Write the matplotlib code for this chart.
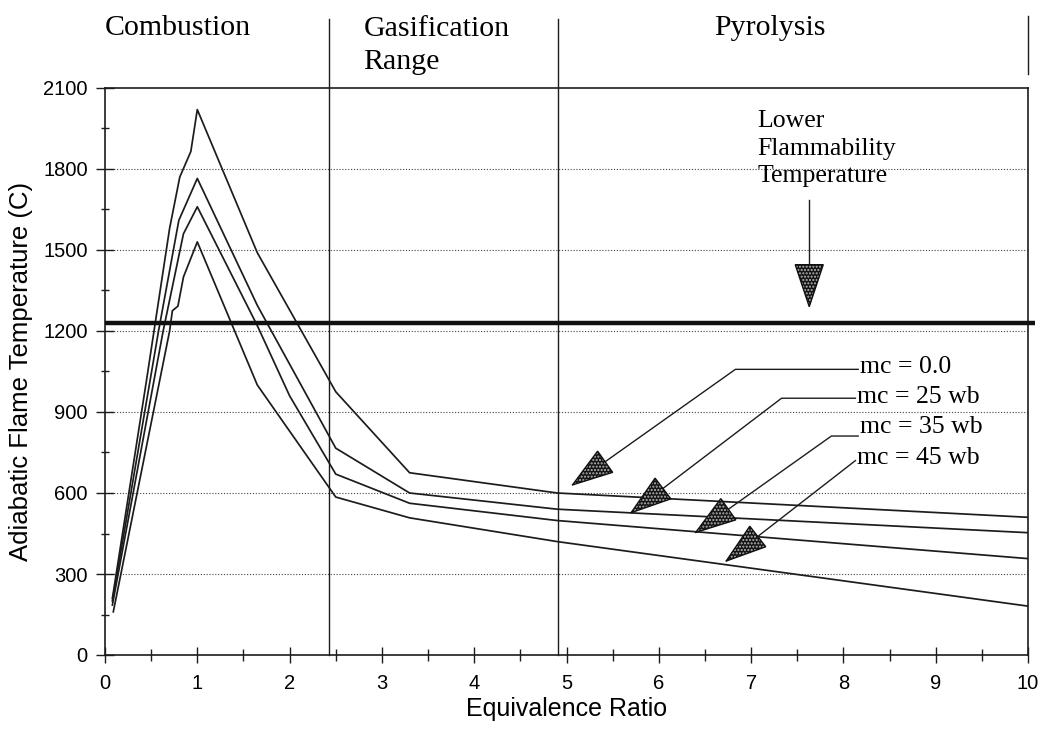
import numpy as np
import matplotlib
matplotlib.use("Agg")
import matplotlib.pyplot as plt
from matplotlib.patches import Polygon

# Adiabatic flame temperature vs equivalence ratio for several moisture contents
phi_mc0 = [0.08, 0.45, 0.70, 0.81, 0.93, 1.0, 1.65, 2.5, 3.3, 4.9, 10]
temp_mc0 = [210, 1018, 1580, 1770, 1865, 2020, 1490, 975, 675, 600, 510]

phi_mc25 = [0.08, 0.58, 0.80, 1.0, 1.65, 2.5, 3.3, 4.9, 10]
temp_mc25 = [200, 1200, 1610, 1765, 1295, 766, 600, 540, 453]

phi_mc35 = [0.08, 0.63, 0.85, 1.0, 1.65, 2.0, 2.5, 3.3, 4.9, 10]
temp_mc35 = [185, 1200, 1560, 1660, 1220, 960, 670, 562, 498, 357]

phi_mc45 = [0.09, 0.70, 0.73, 0.79, 0.85, 1.0, 1.65, 2.5, 3.3, 4.9, 10]
temp_mc45 = [160, 1200, 1275, 1292, 1400, 1530, 1000, 585, 508, 420, 181]

series_labels = ["mc = 0.0", "mc = 25 wb", "mc = 35 wb", "mc = 45 wb"]

lower_flammability_temp = 1230
regime_bounds = [2.43, 4.91]
regime_names = ["Combustion", "Gasification\nRange", "Pyrolysis"]

x_ticks = list(range(0, 11))
y_ticks = list(range(0, 2101, 300))

SERIF = ["Liberation Serif", "DejaVu Serif"]
SANS = ["Liberation Sans", "DejaVu Sans"]
INK = "#1c1c1c"

fig = plt.figure(figsize=(10.43, 7.32), dpi=100)
ax = fig.add_axes([105 / 1043, 77 / 732, 923 / 1043, 567 / 732])
ax.set_xlim(0, 10)
ax.set_ylim(0, 2100)

# frame and ticks
for side in ["left", "right", "top", "bottom"]:
    ax.spines[side].set_linewidth(1.2)
    ax.spines[side].set_color(INK)
ax.set_xticks(x_ticks)
ax.set_xticks(np.arange(0.5, 10, 1.0), minor=True)
ax.set_yticks(y_ticks)
ax.set_yticks(np.arange(150, 2100, 300), minor=True)
ax.tick_params(which="major", direction="inout", length=13, width=1.0, color=INK,
               labelsize=14.5, pad=6)
ax.tick_params(which="minor", direction="inout", length=6, width=1.0, color=INK)
ax.tick_params(axis="x", which="major", length=11, pad=8)
ax.tick_params(axis="x", which="minor", length=9)
ax.tick_params(right=False, top=False, which="both")
for lab in ax.get_xticklabels() + ax.get_yticklabels():
    lab.set_family(SANS)

# dotted horizontal grid
for yv in y_ticks[1:-1]:
    ax.axhline(yv, color="#444444", lw=0.8, ls=(0, (1, 1.6)), zorder=1)

ax.set_xlabel("Equivalence Ratio", family=SANS, fontsize=18, labelpad=3)
ax.set_ylabel("Adiabatic Flame Temperature (C)", family=SANS, fontsize=18.5, labelpad=7)

# temperature curves
for xs, ys in [(phi_mc0, temp_mc0), (phi_mc25, temp_mc25),
               (phi_mc35, temp_mc35), (phi_mc45, temp_mc45)]:
    ax.plot(xs, ys, color=INK, lw=1.25, zorder=3)

# lower flammability temperature line
ax.plot([0.0, 10.08], [lower_flammability_temp] * 2, color="#111111", lw=3.2,
        solid_capstyle="butt", clip_on=False, zorder=4)

# regime boundaries, extending above the plot into the header band
for xb in regime_bounds:
    ax.plot([xb, xb], [0, 2355], color=INK, lw=1.0, clip_on=False, zorder=2)
ax.plot([10, 10], [2150, 2365], color=INK, lw=1.0, clip_on=False)

ax.text(0.79, 2322, regime_names[0], family=SERIF, fontsize=21.5, ha="center",
        va="center", clip_on=False)
ax.text(2.80, 2258, regime_names[1], family=SERIF, fontsize=21.5, ha="left",
        va="center", linespacing=1.34, clip_on=False)
ax.text(7.2, 2322, regime_names[2], family=SERIF, fontsize=21.5, ha="center",
        va="center", clip_on=False)


def stippled_head(tip, tail, length=40, width=26):
    """Triangular dotted arrow head pointing at tip, sized in pixels."""
    t = ax.transData.transform(tip)
    s = ax.transData.transform(tail)
    d = (s - t) / np.hypot(*(s - t))
    base = t + d * length
    perp = np.array([-d[1], d[0]])
    pts = np.array([t, base + perp * width / 2, base - perp * width / 2])
    pts = ax.transData.inverted().transform(pts)
    ax.add_patch(Polygon(pts, closed=True, facecolor="#141414", edgecolor="#b8b8b8",
                         hatch=".....", lw=0, zorder=6, clip_on=False))
    ax.add_patch(Polygon(pts, closed=True, fill=False, edgecolor="#111111",
                         lw=1.0, zorder=7, clip_on=False))


# Lower flammability label and arrow
ax.text(7.07, 2018, "Lower\nFlammability\nTemperature", family=SERIF, fontsize=18.5,
        ha="left", va="top", linespacing=1.33)
ax.plot([7.63, 7.63], [1685, 1320], color=INK, lw=1.0, zorder=5)
stippled_head((7.63, 1290), (7.63, 1685), length=42, width=28)

# moisture content call-outs: (label end, elbow, arrow tip) and label centre height
callouts = [
    ((8.16, 1058), (6.83, 1058), (5.065, 630)),
    ((8.13, 951), (7.33, 951), (5.70, 527)),
    ((8.16, 811), (7.87, 811), (6.40, 454)),
    ((8.13, 720), (8.13, 720), (6.73, 348)),
]
label_heights = [1068, 957, 843, 728]
for label, (end, elbow, tip), ly in zip(series_labels, callouts, label_heights):
    ax.plot([end[0], elbow[0], tip[0]], [end[1], elbow[1], tip[1]],
            color=INK, lw=1.0, zorder=5)
    stippled_head(tip, elbow)
    ax.text(end[0] + 0.02, ly, label, family=SERIF, fontsize=18.5,
            ha="left", va="center", zorder=8)

fig.savefig("out.png", dpi=100, facecolor="white")
